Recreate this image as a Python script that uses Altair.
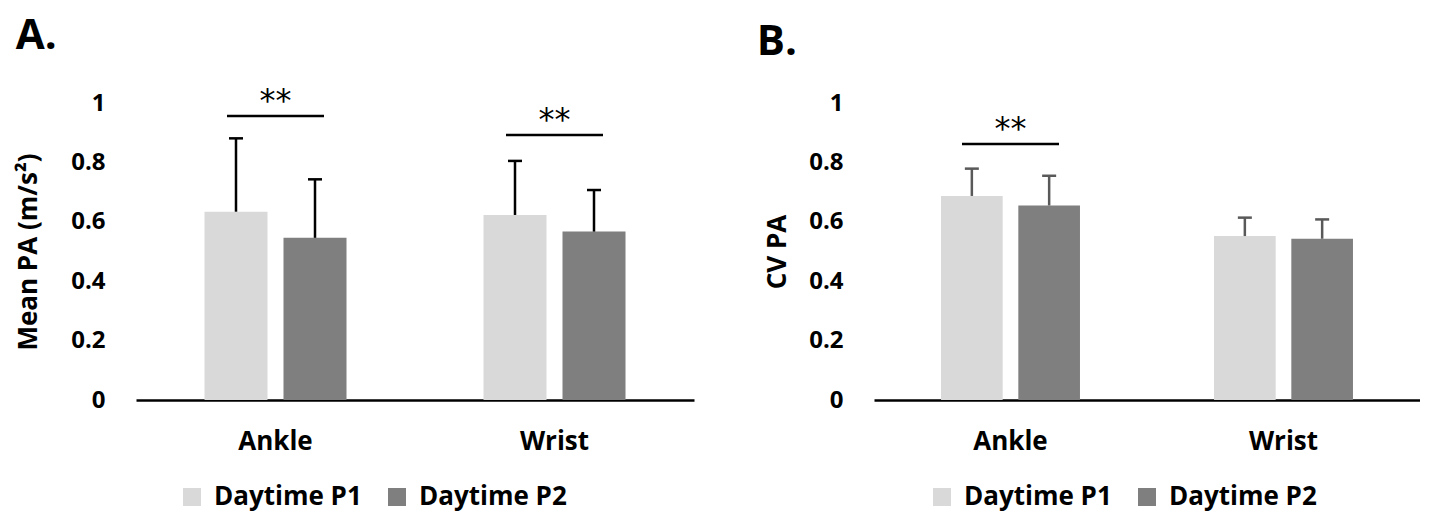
import altair as alt
import pandas as pd

# ---- data ----
sites = ["Ankle", "Wrist"]
series = ["Daytime P1", "Daytime P2"]

# Panel A: Mean PA (m/s^2)
a_p1 = [0.634, 0.623]
a_p2 = [0.546, 0.567]
a_p1_sd = [0.247, 0.182]
a_p2_sd = [0.197, 0.140]
a_sig_sites = ["Ankle", "Wrist"]
a_sig_levels = [0.956, 0.892]

# Panel B: CV PA
b_p1 = [0.687, 0.552]
b_p2 = [0.655, 0.543]
b_p1_sd = [0.092, 0.062]
b_p2_sd = [0.100, 0.065]
b_sig_sites = ["Ankle"]
b_sig_levels = [0.862]

y_ticks = [0, 0.2, 0.4, 0.6, 0.8, 1]
colors = ["#d9d9d9", "#7f7f7f"]

FONT = "Open Sans"


def make_df(p1, p2, sd1, sd2):
    rows = []
    for i, s in enumerate(sites):
        rows.append({"site": s, "series": series[0], "mean": p1[i], "upper": p1[i] + sd1[i]})
        rows.append({"site": s, "series": series[1], "mean": p2[i], "upper": p2[i] + sd2[i]})
    return pd.DataFrame(rows)


def panel(df, sig_sites, sig_levels, ytitle, title, title_dx, err_color, width,
          title_pad, legend_x):
    sig_df = pd.DataFrame({"site": sig_sites, "sig": sig_levels, "label": ["**"] * len(sig_sites)})
    x = alt.X(
        "site:N", sort=sites,
        scale=alt.Scale(paddingInner=0, paddingOuter=0),
        axis=alt.Axis(title=None, labelAngle=0, ticks=False, domainColor="black",
                      domainWidth=2.5, labelPadding=28, labelFont=FONT, labelFontSize=26,
                      labelFontWeight="bold", labelColor="black", grid=False),
    )
    xoff = alt.XOffset("series:N", sort=series,
                       scale=alt.Scale(paddingInner=0.2025, paddingOuter=0.867))
    y = alt.Y(
        "mean:Q",
        scale=alt.Scale(domain=[0, 1], nice=False),
        axis=alt.Axis(title=ytitle, values=y_ticks, format="~g", domain=False, ticks=False,
                      grid=False, labelPadding=31, labelFont=FONT, labelFontSize=24,
                      labelFontWeight="bold", labelColor="black", titleFont=FONT,
                      titleFontSize=26, titleFontWeight="bold", titleColor="black",
                      titlePadding=title_pad),
    )
    color = alt.Color(
        "series:N", sort=series,
        scale=alt.Scale(domain=series, range=colors),
        legend=alt.Legend(orient="none", legendX=legend_x, legendY=381, direction="horizontal",
                          title=None, symbolType="square", symbolSize=324, symbolStrokeWidth=0,
                          symbolOpacity=1,
                          labelFont=FONT, labelFontSize=26, labelFontWeight="bold",
                          labelColor="black", columnPadding=22, labelOffset=9),
    )
    base = alt.Chart(df)
    bars = base.mark_bar(opacity=1).encode(x=x, xOffset=xoff, y=y, color=color)
    err = base.mark_rule(color=err_color, strokeWidth=2.5, opacity=1).encode(
        x=x, xOffset=xoff, y="mean:Q", y2="upper:Q")
    cap = base.mark_tick(color=err_color, thickness=2.5, size=14, opacity=1).encode(
        x=x, xOffset=xoff, y="upper:Q")
    sig_base = alt.Chart(sig_df)
    sig_line = sig_base.mark_tick(color="black", thickness=2.5, size=97, opacity=1).encode(
        x=alt.X("site:N", sort=sites), y="sig:Q")
    sig_txt = sig_base.mark_text(font="DejaVu Sans", fontSize=32, dy=-15, color="black",
                                 baseline="middle").encode(
        x=alt.X("site:N", sort=sites), y="sig:Q", text="label:N")
    return alt.layer(bars, err, cap, sig_line, sig_txt).properties(
        width=width, height=297,
        view=alt.ViewBackground(stroke="transparent", strokeWidth=0),
        title=alt.TitleParams(title, anchor="start", font=FONT, fontSize=42,
                              fontWeight="bold", color="black", offset=27, dx=title_dx),
    )


panel_a = panel(make_df(a_p1, a_p2, a_p1_sd, a_p2_sd), a_sig_sites, a_sig_levels,
                "Mean PA (m/s²)", "A.", 0, "black", 558, 29, 43)
panel_b = panel(make_df(b_p1, b_p2, b_p1_sd, b_p2_sd), b_sig_sites, b_sig_levels,
                "CV PA", "B.", -8, "#595959", 546, 18, 55)

chart = alt.hconcat(panel_a, panel_b, spacing=62).resolve_scale(
    color="independent", x="independent", y="independent", xOffset="independent"
).resolve_legend(color="independent").properties(
    padding={"left": 7, "top": 7, "right": 0, "bottom": 3},
    background="white",
).configure_view(strokeWidth=0, stroke="transparent")

chart.save("out.html", embed_options={"renderer": "svg", "actions": False})
